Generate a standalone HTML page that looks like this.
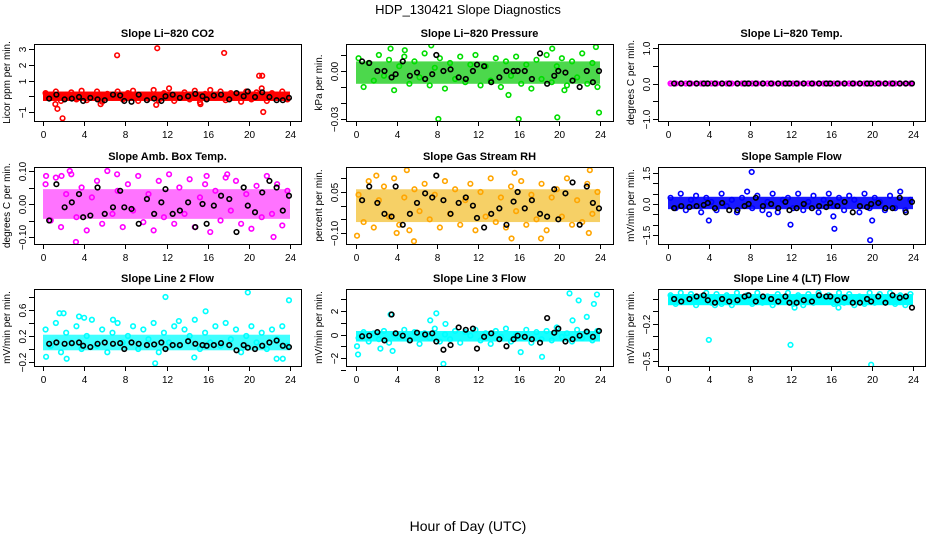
<!DOCTYPE html>
<html><head><meta charset="utf-8"><style>
body{margin:0;background:#fff}
svg{display:block;font-family:"Liberation Sans",sans-serif}
</style></head><body>
<svg id="chart" width="936" height="540" viewBox="0 0 936 540">
<text x="468" y="14" text-anchor="middle" font-size="13">HDP_130421  Slope Diagnostics</text>
<text x="468" y="531" text-anchor="middle" font-size="14">Hour of Day (UTC)</text>
</svg>
<script>
const hours=[0.25,0.75,1.25,1.75,2.25,2.75,3.25,3.75,4.25,4.75,5.25,5.75,6.25,6.75,7.25,7.75,8.25,8.75,9.25,9.75,10.25,10.75,11.25,11.75,12.25,12.75,13.25,13.75,14.25,14.75,15.25,15.75,16.25,16.75,17.25,17.75,18.25,18.75,19.25,19.75,20.25,20.75,21.25,21.75,22.25,22.75,23.25,23.75];
const blackHours=[0.6,1.3,2.1,2.8,3.5,3.9,4.6,5.3,6.0,6.8,7.5,7.9,8.6,9.3,10.1,10.8,11.5,11.9,12.6,13.3,14.1,14.8,15.5,15.9,16.6,17.3,18.1,18.8,19.5,19.9,20.6,21.3,22.0,22.7,23.3,23.9];
const xTicks=[0,4,8,12,16,20,24];

const p1Col=[0.2,-0.1,0.3,-0.3,0.1,0.25,-0.2,0.35,-0.25,0.0,0.3,-0.35,0.15,-0.1,0.3,-0.2,0.2,0.35,-0.3,0.1,-0.15,0.4,-0.25,0.2,0.5,-0.3,0.1,0.25,-0.2,0.35,-0.4,0.15,0.4,-0.1,0.3,-0.25,0.2,0.1,-0.35,0.3,-0.2,0.25,0.5,-0.3,0.2,-0.1,0.3,-0.2];
const p1Blk=[-0.15,0.1,-0.2,-0.15,-0.05,-0.3,-0.1,-0.2,-0.25,0.1,0.05,-0.3,-0.35,0.1,-0.25,-0.15,-0.3,0.0,0.1,-0.1,0.0,0.15,0.0,-0.2,0.05,0.1,-0.2,0.2,0.0,0.3,-0.05,0.25,-0.05,-0.25,-0.25,-0.1];
const p1OutX=[7.2,11.1,17.6,21.0,21.3,1.9,1.4,21.4,1.2,15.3,11.0,5.6];
const p1OutY=[2.6,3.05,2.75,1.3,1.3,-1.4,-0.8,-1.0,-0.5,-0.5,-0.55,-0.5];
const p1Band=[-0.3,0.3];

const p2Col=[0.008,-0.010,0.005,-0.006,0.010,-0.003,0.007,-0.012,0.003,0.009,-0.008,0.006,-0.004,0.011,-0.009,0.002,0.008,-0.011,0.005,-0.005,0.009,-0.007,0.004,0.010,-0.009,0.003,-0.006,0.008,-0.010,0.006,-0.003,0.009,-0.008,0.004,-0.011,0.007,-0.005,0.010,-0.007,0.003,0.008,-0.009,0.006,-0.004,0.011,-0.008,0.005,-0.010];
const p2Blk=[0.006,0.005,0.000,0.000,-0.004,-0.002,0.006,-0.003,-0.001,-0.005,-0.002,0.010,0.000,0.001,-0.004,-0.005,0.000,0.004,0.003,-0.007,-0.004,0.000,0.000,0.000,0.000,-0.005,0.011,-0.008,-0.003,0.000,-0.001,-0.006,-0.010,0.000,-0.007,0.000];
const p2OutX=[8.1,16.0,23.9,7.4,23.6,3.4,19.3,4.8,15.0,20.5,19.8];
const p2OutY=[-0.030,-0.030,-0.026,0.016,0.015,0.014,0.014,0.013,-0.015,-0.012,-0.029];
const p2Band=[-0.008,0.006];

const p3Col=[0,0,0,0,0,0,0,0,0,0,0,0,0,0,0,0,0,0,0,0,0,0,0,0,0,0,0,0,0,0,0,0,0,0,0,0,0,0,0,0,0,0,0,0,0,0,0,0];
const p3Blk=[0,0,0,0,0,0,0,0,0,0,0,0,0,0,0,0,0,0,0,0,0,0,0,0,0,0,0,0,0,0,0,0,0,0,0,0];
const p3OutX=[];
const p3OutY=[];
const p3Band=[-0.03,0.03];

const p4Col=[0.060,-0.050,0.080,-0.070,0.030,0.090,-0.040,0.050,-0.080,0.020,0.070,-0.060,0.100,-0.030,0.040,-0.070,0.060,-0.020,0.085,-0.055,0.030,-0.080,0.070,-0.040,0.090,-0.060,0.050,-0.030,0.075,-0.070,0.020,0.060,-0.085,0.040,-0.050,0.080,-0.020,0.070,-0.060,0.030,-0.075,0.055,-0.040,0.085,-0.030,0.060,-0.065,0.040];
const p4Blk=[-0.050,0.060,-0.010,0.005,0.030,-0.040,-0.035,0.050,-0.030,-0.010,0.040,-0.010,-0.015,-0.060,0.015,-0.030,0.005,0.045,-0.030,-0.020,0.005,-0.070,0.000,-0.060,-0.005,0.025,0.015,-0.085,0.050,-0.005,-0.025,0.035,0.070,0.050,-0.020,0.025];
const p4OutX=[3.2,22.4,2.6,0.3,7.2,1.8,15.9,17.9];
const p4OutY=[-0.115,-0.100,0.100,0.085,0.090,0.085,0.085,0.090];
const p4Band=[-0.045,0.045];

const p5Col=[0.040,-0.060,0.090,-0.080,0.020,0.070,-0.040,0.100,-0.070,0.030,-0.090,0.060,-0.020,0.080,-0.050,0.040,-0.080,0.090,-0.030,0.060,-0.070,0.020,0.080,-0.090,0.050,-0.040,0.100,-0.060,0.030,-0.080,0.070,-0.020,0.090,-0.070,0.040,-0.050,0.080,-0.090,0.030,0.060,-0.040,0.100,-0.070,0.020,-0.060,0.080,-0.030,0.050];
const p5Blk=[0.020,0.070,0.010,-0.030,-0.040,0.070,-0.070,-0.030,0.010,0.045,0.030,0.110,0.020,-0.030,0.010,0.030,0.000,-0.045,-0.080,-0.030,-0.010,-0.070,0.015,0.050,-0.010,0.020,-0.030,-0.040,0.060,-0.050,0.045,0.085,-0.070,0.070,0.010,-0.010];
const p5OutX=[5.0,23.0,5.7,15.3,0.1,18.2,22.9,4.0,15.6,2.0];
const p5OutY=[0.130,0.130,-0.130,-0.120,-0.110,-0.120,-0.100,-0.100,0.120,0.110];
const p5Band=[-0.06,0.06];

const p6Col=[0.3,-0.2,0.5,-0.3,0.2,0.4,-0.4,0.3,0.1,-0.3,0.5,-0.1,0.2,-0.4,0.3,0.6,-0.2,0.4,-0.3,0.1,0.5,-0.4,0.2,0.3,-0.2,0.5,-0.3,0.1,0.4,-0.4,0.2,0.5,-0.1,0.3,-0.3,0.4,0.2,-0.4,0.5,-0.2,0.3,0.1,-0.3,0.4,-0.2,0.6,-0.3,0.2];
const p6Blk=[-0.2,-0.1,-0.15,-0.1,-0.05,0.05,-0.2,0.05,-0.3,-0.3,-0.1,0.0,0.3,-0.1,0.0,-0.2,0.1,-0.3,-0.2,0.0,-0.2,-0.1,-0.15,0.05,-0.1,0.1,-0.4,-0.1,-0.15,0.0,0.05,-0.2,-0.2,0.3,-0.4,0.1];
const p6OutX=[8.2,19.8,4.0,12.0,16.3,20.0,16.2,9.9];
const p6OutY=[1.55,-1.75,-0.8,-1.0,-1.2,-0.8,-0.6,-0.5];
const p6Band=[-0.25,0.35];

const p7Col=[0.3,0.05,0.4,-0.05,0.25,0.1,0.35,0.0,0.2,0.45,0.05,0.3,-0.05,0.25,0.4,0.1,0.2,0.35,0.0,0.3,0.15,0.4,-0.05,0.25,0.1,0.35,0.05,0.3,0.2,0.45,0.0,0.25,0.1,0.35,0.05,0.4,0.15,0.3,-0.05,0.2,0.35,0.1,0.25,0.0,0.3,0.15,0.35,0.05];
const p7Blk=[0.08,0.1,0.08,0.09,0.1,0.05,0.03,0.08,0.1,0.08,0.09,0.0,0.1,0.08,0.06,0.07,0.1,0.0,0.06,0.06,0.12,0.08,0.06,0.05,0.06,0.09,0.06,-0.02,0.06,0.02,0.0,0.05,0.1,0.13,0.05,0.03];
const p7OutX=[11.9,19.9,23.9,1.6,2.0,15.8,3.5,4.0,13.2,10.9,0.3,2.3,22.7,23.3,14.7,6.8];
const p7OutY=[0.8,0.87,0.75,0.55,0.55,0.58,0.5,0.48,0.43,-0.22,-0.12,-0.15,-0.15,-0.15,-0.13,0.45];
const p7Band=[-0.02,0.22];

const p8Col=[-0.3,0.2,-0.6,0.1,-0.4,0.3,-0.7,0.0,-0.2,0.4,-0.5,0.2,-0.8,0.1,-0.3,0.5,-0.6,0.0,-0.4,0.3,-0.7,0.2,-0.1,0.4,-0.5,0.1,-0.8,0.3,-0.2,0.5,-0.6,0.0,-0.3,0.4,-0.7,0.2,-0.4,0.3,-0.5,0.6,-0.2,0.1,-0.6,0.4,-0.3,0.2,-0.5,0.3];
const p8Blk=[-0.15,-0.1,0.2,-0.5,1.7,0.1,-0.1,-0.5,0.15,0.0,0.1,-0.6,-1.3,-0.9,0.6,0.4,0.5,-1.2,-0.2,0.1,-0.4,-1.0,-0.4,-0.1,-0.2,-0.4,-0.7,1.4,0.15,0.5,-0.6,-0.4,-0.1,0.25,-0.2,0.3];
const p8OutX=[0.1,0.2,3.4,8.6,7.3,18.3,23.7,21.9,23.4,22.7,21.3,2.4,3.6,16.2,8.8,21.0,7.9];
const p8OutY=[-1.0,-1.7,1.7,-2.5,1.2,-1.9,3.4,2.9,2.6,1.5,1.2,-1.2,-1.4,-1.5,0.9,3.5,1.8];
const p8Band=[-0.6,0.3];

const p9Col=[0.03,-0.04,0.05,-0.02,0.04,-0.05,0.02,0.05,-0.03,0.04,-0.04,0.03,-0.05,0.05,-0.02,0.03,-0.04,0.05,-0.03,0.02,-0.05,0.04,-0.02,0.05,-0.04,0.03,-0.05,0.04,-0.03,0.05,-0.02,0.03,-0.04,0.05,-0.03,0.04,-0.05,0.02,-0.04,0.05,-0.03,0.04,-0.02,0.05,-0.04,0.03,-0.05,0.04];
const p9Blk=[0.0,-0.02,0.0,0.02,0.03,-0.01,-0.03,0.0,-0.02,-0.01,0.02,0.03,-0.02,0.02,0.0,-0.02,0.02,-0.03,-0.03,-0.01,-0.02,0.03,0.02,0.02,-0.01,0.01,-0.03,-0.03,0.0,-0.02,0.02,-0.03,0.03,0.01,0.02,-0.07];
const p9OutX=[4.0,12.0,19.9,12.4,16.7,4.6];
const p9OutY=[-0.33,-0.37,-0.53,-0.07,-0.07,-0.05];
const p9Band=[-0.05,0.04];

const p1YTicks=[-1,0,1,2,3], p1YLabels=["−1","","1","2","3"];
const p2YTicks=[-0.03,-0.02,-0.01,0,0.01], p2YLabels=["−0.03","","","0.00",""];
const p3YTicks=[-1,-0.5,0,0.5,1], p3YLabels=["−1.0","","0.0","","1.0"];
const p4YTicks=[-0.1,-0.05,0,0.05,0.1], p4YLabels=["−0.10","","0.00","","0.10"];
const p5YTicks=[-0.1,-0.05,0,0.05,0.1], p5YLabels=["−0.10","","","0.05",""];
const p6YTicks=[-1.5,-1,-0.5,0,0.5,1,1.5], p6YLabels=["−1.5","","","0.0","","","1.5"];
const p7YTicks=[-0.2,0,0.2,0.4,0.6,0.8], p7YLabels=["−0.2","","0.2","","0.6",""];
const p8YTicks=[-3,-2,-1,0,1,2,3], p8YLabels=["","−2","","0","","2",""];
const p9YTicks=[-0.5,-0.4,-0.3,-0.2,-0.1,0], p9YLabels=["−0.5","","","−0.2","",""];

const NS="http://www.w3.org/2000/svg";
const svg=document.getElementById('chart');
function mk(tag,attrs,parent){const e=document.createElementNS(NS,tag);for(const k in attrs)e.setAttribute(k,attrs[k]);(parent||svg).appendChild(e);return e;}

const cols=[{l:34,x0:43,x24:290},{l:346,x0:356,x24:600},{l:658,x0:668,x24:913}];
const rows=[{t:44,b:121},{t:167,b:244},{t:289,b:366}];
const panels=[
 {slug:'co2',title:'Slope Li−820 CO2',ylab:'Licor ppm per min.',color:'#ff0000',bandColor:'#ff0000',op:1,col:0,row:0,v1:3,p1:49,v2:-1,p2:112,data:p1Col,blk:p1Blk,ox:p1OutX,oy:p1OutY,band:p1Band,yt:p1YTicks,yl:p1YLabels},
 {slug:'pressure',title:'Slope Li−820 Pressure',ylab:'kPa per min.',color:'#00dd00',bandColor:'#00c800',op:0.7,col:1,row:0,v1:0,p1:71,v2:-0.03,p2:119,data:p2Col,blk:p2Blk,ox:p2OutX,oy:p2OutY,band:p2Band,yt:p2YTicks,yl:p2YLabels},
 {slug:'temp',title:'Slope Li−820 Temp.',ylab:'degrees C per min.',color:'#ff00ff',bandColor:'#ff00ff',op:1,col:2,row:0,v1:1,p1:48,v2:-1,p2:119,data:p3Col,blk:p3Blk,ox:p3OutX,oy:p3OutY,band:p3Band,yt:p3YTicks,yl:p3YLabels},
 {slug:'amb-box-temp',title:'Slope Amb. Box Temp.',ylab:'degrees C per min.',color:'#ff00ff',bandColor:'#ff00ff',op:0.55,col:0,row:1,v1:0.1,p1:171,v2:-0.1,p2:237,data:p4Col,blk:p4Blk,ox:p4OutX,oy:p4OutY,band:p4Band,yt:p4YTicks,yl:p4YLabels},
 {slug:'gas-rh',title:'Slope Gas Stream RH',ylab:'percent per min.',color:'#ffa500',bandColor:'#f0b000',op:0.6,col:1,row:1,v1:0.05,p1:192,v2:-0.1,p2:233,data:p5Col,blk:p5Blk,ox:p5OutX,oy:p5OutY,band:p5Band,yt:p5YTicks,yl:p5YLabels},
 {slug:'sample-flow',title:'Slope Sample Flow',ylab:'mV/min per min.',color:'#0000ff',bandColor:'#0000ff',op:0.9,col:2,row:1,v1:1.5,p1:173,v2:-1.5,p2:235,data:p6Col,blk:p6Blk,ox:p6OutX,oy:p6OutY,band:p6Band,yt:p6YTicks,yl:p6YLabels},
 {slug:'line2-flow',title:'Slope Line 2 Flow',ylab:'mV/min per min.',color:'#00ffff',bandColor:'#00ffff',op:0.75,col:0,row:2,v1:0.6,p1:310,v2:-0.2,p2:362,data:p7Col,blk:p7Blk,ox:p7OutX,oy:p7OutY,band:p7Band,yt:p7YTicks,yl:p7YLabels},
 {slug:'line3-flow',title:'Slope Line 3 Flow',ylab:'mV/min per min.',color:'#00ffff',bandColor:'#00ffff',op:0.9,col:1,row:2,v1:2,p1:311,v2:-2,p2:358,data:p8Col,blk:p8Blk,ox:p8OutX,oy:p8OutY,band:p8Band,yt:p8YTicks,yl:p8YLabels},
 {slug:'line4-flow',title:'Slope Line 4 (LT) Flow',ylab:'mV/min per min.',color:'#00ffff',bandColor:'#00ffff',op:1,col:2,row:2,v1:0,p1:299,v2:-0.5,p2:361,data:p9Col,blk:p9Blk,ox:p9OutX,oy:p9OutY,band:p9Band,yt:p9YTicks,yl:p9YLabels}
];

panels.forEach(p=>{
 const c=cols[p.col], r=rows[p.row];
 const W=267;
 const xs=h=>c.x0+(c.x24-c.x0)*h/24;
 const ys=v=>p.p1+(v-p.v1)*(p.p2-p.p1)/(p.v2-p.v1);
 const g=mk('g',{});
 
 
 const cp=mk('clipPath',{id:'clip-'+p.slug},g);
 mk('rect',{x:c.l,y:r.t,width:W,height:r.b-r.t},cp);
 const t=mk('text',{x:c.l+W/2,y:r.t-7,'text-anchor':'middle','font-size':'11','font-weight':'bold'},g);
 t.textContent=p.title;
 
 
 const yt=mk('text',{x:0,y:0,'text-anchor':'middle','font-size':'10',transform:`translate(${c.l-24},${(r.t+r.b)/2}) rotate(-90)`},g);
 yt.textContent=p.ylab;
 
 
 const pg=mk('g',{'clip-path':`url(#clip-${p.slug})`},g);
 const y1=ys(p.band[1]), y0=ys(p.band[0]);
 const band=mk('rect',{x:xs(0),y:y1,width:xs(24)-xs(0),height:y0-y1,fill:p.bandColor,'fill-opacity':p.op},pg);
 
 
 p.data.forEach((v,i)=>{
  const e=mk('circle',{cx:xs(hours[i]),cy:ys(v),r:2.3,fill:'none',stroke:p.color,'stroke-width':1.6},pg);
  
  
 });
 p.ox.forEach((h,i)=>{
  const e=mk('circle',{cx:xs(h),cy:ys(p.oy[i]),r:2.3,fill:'none',stroke:p.color,'stroke-width':1.6},pg);
  
  
 });
 p.blk.forEach((v,i)=>{
  const e=mk('circle',{cx:xs(blackHours[i]),cy:ys(v),r:2.3,fill:'none',stroke:'#000','stroke-width':1.6},pg);
  
  
 });
 const box=mk('rect',{x:c.l+0.5,y:r.t+0.5,width:W,height:r.b-r.t,fill:'none',stroke:'#000','stroke-width':1},g);
 
 
 xTicks.forEach(h=>{
  const x=Math.round(xs(h))+0.5;
  mk('line',{x1:x,x2:x,y1:r.b,y2:r.b+5,stroke:'#000'},g);
  const l=mk('text',{x:x,y:r.b+17,'text-anchor':'middle','font-size':'10'},g);
  l.textContent=h;
  
  
 });
 p.yt.forEach((v,i)=>{
  const y=Math.round(ys(v))+0.5;
  mk('line',{x1:c.l-5,x2:c.l,y1:y,y2:y,stroke:'#000'},g);
  if(p.yl[i]){
   const l=mk('text',{x:0,y:0,'text-anchor':'middle','font-size':'10',transform:`translate(${c.l-8},${y}) rotate(-90)`},g);
   l.textContent=p.yl[i];
   
   
  }
 });
});
</script>
</body></html>
